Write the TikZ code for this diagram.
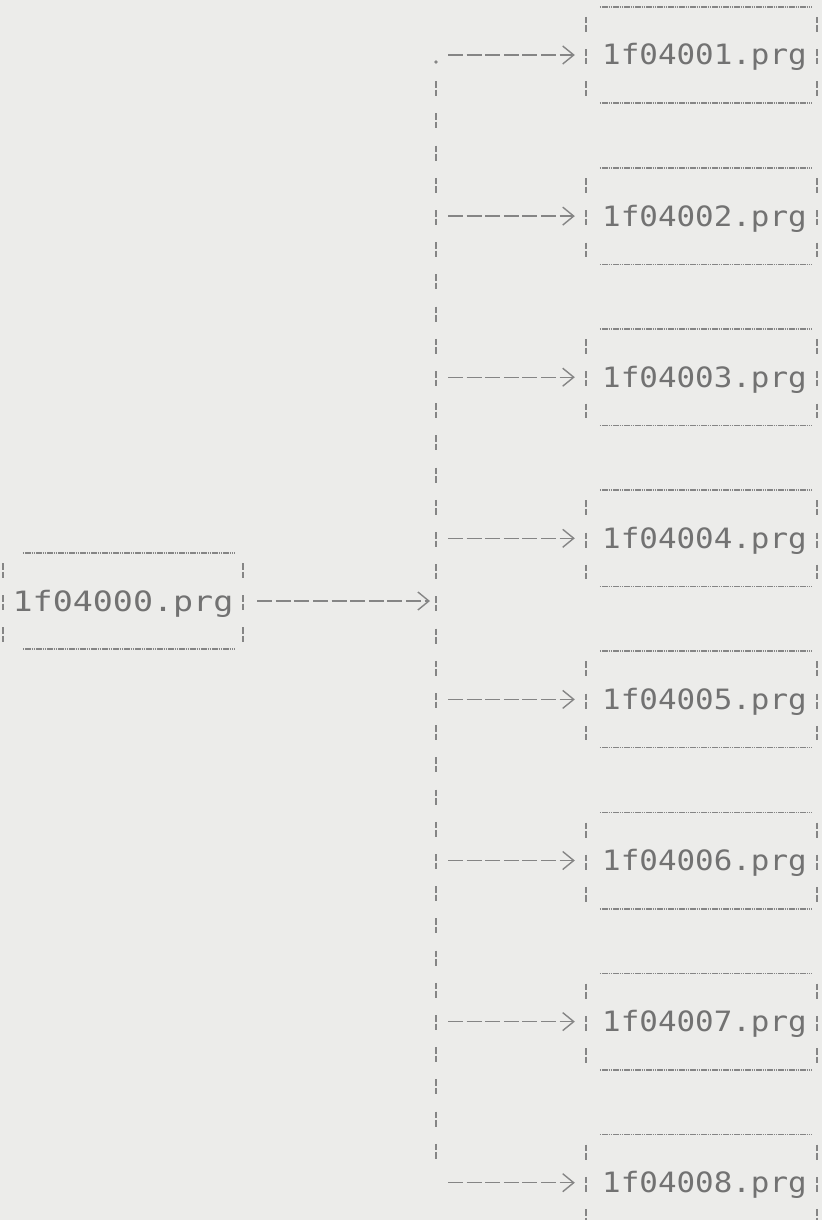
\documentclass[tikz,border=0pt]{standalone}
\usepackage{fontspec}
\newfontfamily\dotmono[FakeStretch=1.103]{DejaVu Sans Mono}
\newfontfamily\dotmonowide[FakeStretch=1.19]{DejaVu Sans Mono}
\usetikzlibrary{arrows.meta,calc}
\definecolor{paper}{HTML}{ECECEA}
\definecolor{ink}{HTML}{727272}
\definecolor{rule}{HTML}{858585}
\tikzset{
  prog/.style={inner sep=0pt, minimum width=231pt, minimum height=96pt, text=ink,
    font=\dotmono\fontsize{28}{28}\selectfont, text height=20pt, text depth=0pt},
  hline/.style={draw=rule, line width=1.6pt, dash pattern=on 1.5pt off 0.7pt},
  vbar/.style={draw=rule, line width=1.8pt, dash pattern=on 6.5pt off 2pt on 6.5pt off 17.2pt},
  flow/.style={draw=rule, line width=1.4pt, dash pattern=on 15pt off 3.6pt,
    -{Straight Barb[length=11pt,width=18pt]}},
}
\begin{document}
\begin{tikzpicture}[x=1pt,y=-1pt]
\fill[paper] (0,0) rectangle (822,1220);
\useasboundingbox (0,0) rectangle (822,1220);
% source program
\node[prog, minimum width=240pt, font=\dotmonowide\fontsize{28}{28}\selectfont] (p0) at (123,601) {1f04000.prg};
% called programs
\foreach \k [evaluate=\k as \y using {55+161.1*(\k-1)}] in {1,...,8} {
  \node[prog] (p\k) at (701.5,\y) {\hspace*{6pt}1f0400\k.prg};
  \coordinate (t\k) at (436,\y);
}
% ascii-style frames
\foreach \n/\l/\r in {p0/20/8,p1/14/5,p2/14/5,p3/14/5,p4/14/5,p5/14/5,p6/14/5,p7/14/5,p8/14/5} {
  \draw[hline] ($(\n.north west)+(\l,0)$) -- ($(\n.north east)+(-\r,0)$);
  \draw[hline] ($(\n.south west)+(\l,0)$) -- ($(\n.south east)+(-\r,0)$);
  \draw[vbar] ($(\n.west)+(0,-38)$) -- ($(\n.west)+(0,41)$);
  \draw[vbar] ($(\n.east)+(0,-38)$) -- ($(\n.east)+(0,41)$);
}
% trunk
\coordinate (dot) at (436,62);
\coordinate (trunktop) at (436,81.2);
\coordinate (trunkbot) at (436,1159);
\fill[rule] (dot) circle (1.8pt);
\draw[vbar] (trunktop) -- (trunkbot);
% connectors
\coordinate (tin) at (436,601);
\draw[flow, shorten <=14pt, shorten >=6pt] (p0.east) -- (tin);
\foreach \k in {1,...,8} {
  \draw[flow, shorten <=12pt, shorten >=11pt] (t\k) -- (p\k.west);
}
\end{tikzpicture}
\end{document}
